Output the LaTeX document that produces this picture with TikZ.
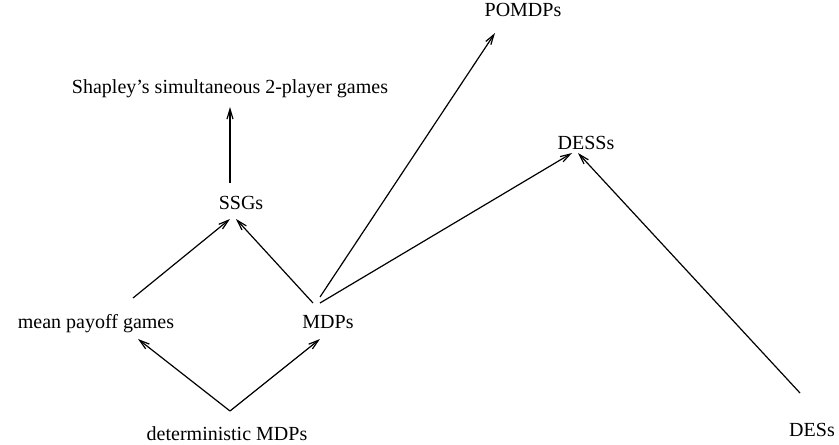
\documentclass[tikz,border=0pt]{standalone}
\usepackage{fontspec}
\setmainfont{Liberation Serif}
\usetikzlibrary{arrows.meta}
\tikzset{>={Straight Barb[length=5pt, width=3pt]},
         lbl/.style = {anchor=base, inner sep=0pt}}

\begin{document}
\begin{tikzpicture}[x=0.5pt, y=-0.5pt, line width=0.6pt]
    \useasboundingbox (0, 0) rectangle (839, 444);

    \node [lbl] (shapley) at (230, 93) {Shapley's simultaneous 2-player games};
    \node [lbl] (ssg) at (241, 209) {SSGs};
    \node [lbl] (mpg) at (96, 328) {mean payoff games};
    \node [lbl] (mdp) at (328, 328) {MDPs};
    \node [lbl] (det) at (227, 440) {deterministic MDPs};
    \node [lbl] (pomdp) at (523, 17) {POMDPs};
    \node [lbl] (dess) at (586, 149) {DESSs};
    \node [lbl] (des) at (812, 436) {DESs};

    \draw [->] ([shift={(-11, -26)}]ssg.base) -- ([shift={(0, 14)}]shapley.base);
    \draw [->] ([shift={(37, -30)}]mpg.base) -- ([shift={(-11, 10)}]ssg.base);
    \draw [->] ([shift={(-15, -25)}]mdp.base) -- ([shift={(-5, 10)}]ssg.base);
    \draw [->] ([shift={(-8, -31)}]mdp.base) -- ([shift={(-28, 16)}]pomdp.base);
    \draw [->] ([shift={(-8, -25)}]mdp.base) -- ([shift={(-14, 4)}]dess.base);
    \draw [->] ([shift={(-12, -43)}]des.base) -- ([shift={(-8, 4)}]dess.base);

    \draw [->] ([shift={(3, -29)}]det.base) -- ([shift={(42, 11)}]mpg.base);
    \draw [->] ([shift={(3, -29)}]det.base) -- ([shift={(-8, 11)}]mdp.base);
\end{tikzpicture}
\end{document}
